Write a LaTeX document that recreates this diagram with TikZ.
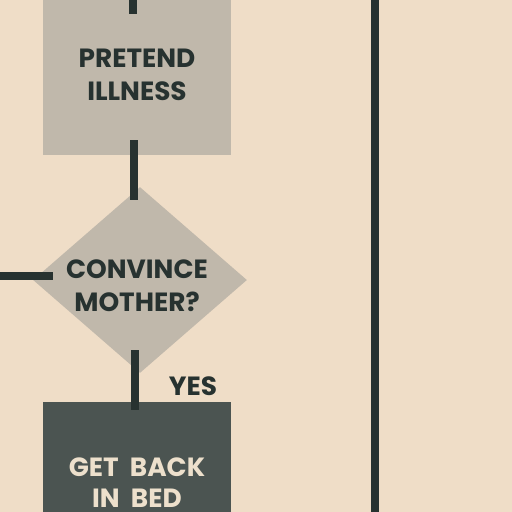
\documentclass[tikz,border=0pt]{standalone}
\usepackage{fontspec}
\setmainfont{Poppins}
\usepackage{tikz}
\usetikzlibrary{%
	calc,%
	shapes.geometric%
}
\definecolor{Paper}{HTML}{EFDDC7}
\definecolor{Ink}{HTML}{273230}
\definecolor{Shade}{HTML}{C0B8AB}
\definecolor{Slate}{HTML}{4B5451}
\definecolor{Chalk}{HTML}{EDE0CC}

\begin{document}
\begin{tikzpicture}[x=0.02cm,y=-0.02cm,
	flow/.style={draw=Ink,line width=4.5pt},
	lettering/.style={font=\bfseries\fontsize{15}{19}\selectfont,align=center,inner sep=0pt},
	stepbox/.style={minimum width=3.76cm,minimum height=3.2cm,inner sep=0pt}]
% Paper
\fill [Paper] (0,0) rectangle (512,512);
\clip (0,0) rectangle (512,512);
% Boxes
\node (pretend) at (137,155) [stepbox,anchor=south,fill=Shade,lettering,text=Ink] {PRETEND\\ILLNESS};
\node (convince) at (140,280) [diamond,fill=Shade,minimum width=4.28cm,minimum height=3.72cm,inner sep=0pt] {};
\node (convincetext) at (137,286) [lettering,text=Ink] {CONVINCE\\MOTHER?};
\node (bed) at (137,402) [stepbox,anchor=north,fill=Slate,lettering,text=Chalk,font=\bfseries\fontsize{15}{17.5}\selectfont] {GET\ \ BACK\\IN\ \ BED};
% Flow lines
\coordinate (top) at (133,0);
\coordinate (left) at (0,276);
\draw [flow] (top) -- ($(top)+(0,14)$);
\draw [flow] ($(pretend.south)+(-3,-15)$) -- ($(convince.north)+(-6,13)$);
\draw [flow] (left) -- ($(convince.west)+(20,-4)$);
\draw [flow] ($(convince.south)+(-5,-23)$) -- ($(bed.north)+(-2,8)$);
\node (yes) at (193,386) [lettering,text=Ink] {YES};
% Right rail
\coordinate (railtop) at (375,0);
\coordinate (railbot) at (375,512);
\draw [flow,line width=4pt] (railtop) -- (railbot);
\end{tikzpicture}
\end{document}
